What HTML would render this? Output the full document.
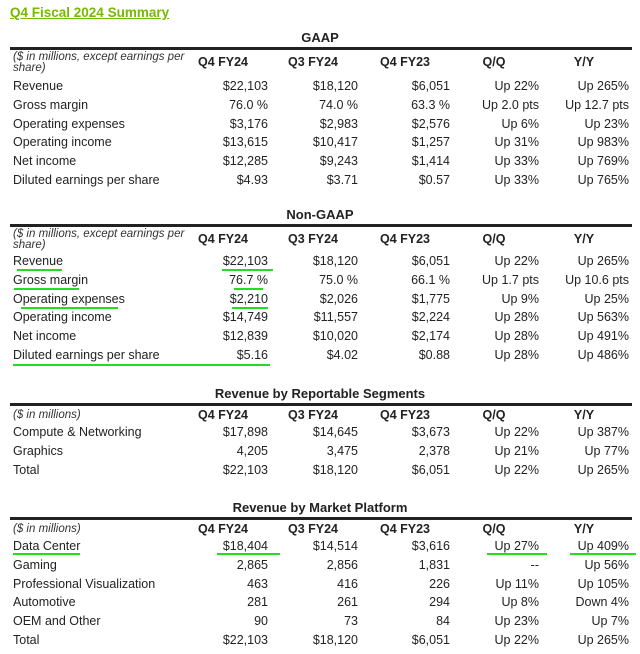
<!DOCTYPE html>
<html><head><meta charset="utf-8"><style>
body{margin:0;width:640px;height:654px;background:#fff;position:relative;overflow:hidden;font-family:"Liberation Sans",sans-serif;color:#222}
.t{position:absolute;white-space:nowrap;font-size:12.5px;line-height:14px}
.r{text-align:right}
.b{font-weight:bold}
.c{text-align:center}
.hl{position:absolute;height:3px;background:#222;left:10px;width:622px}
.g{position:absolute;height:2px;background:#22dd22}
</style></head><body>
<div class="t b" style="left:10px;top:5px;font-size:13.5px;line-height:16px;color:#76b900;text-decoration:underline">Q4 Fiscal 2024 Summary</div>
<div id="root"></div>
<script>
const colRight=[268,358,450,539,629];
const colHeaders=["Q4 FY24","Q3 FY24","Q4 FY23","Q/Q","Y/Y"];
const gaapRows=[["Revenue","$22,103","$18,120","$6,051","Up 22%","Up 265%"],["Gross margin","76.0 %","74.0 %","63.3 %","Up 2.0 pts","Up 12.7 pts"],["Operating expenses","$3,176","$2,983","$2,576","Up 6%","Up 23%"],["Operating income","$13,615","$10,417","$1,257","Up 31%","Up 983%"],["Net income","$12,285","$9,243","$1,414","Up 33%","Up 769%"],["Diluted earnings per share","$4.93","$3.71","$0.57","Up 33%","Up 765%"]];
const nongaapRows=[["Revenue","$22,103","$18,120","$6,051","Up 22%","Up 265%"],["Gross margin","76.7 %","75.0 %","66.1 %","Up 1.7 pts","Up 10.6 pts"],["Operating expenses","$2,210","$2,026","$1,775","Up 9%","Up 25%"],["Operating income","$14,749","$11,557","$2,224","Up 28%","Up 563%"],["Net income","$12,839","$10,020","$2,174","Up 28%","Up 491%"],["Diluted earnings per share","$5.16","$4.02","$0.88","Up 28%","Up 486%"]];
const segRows=[["Compute & Networking","$17,898","$14,645","$3,673","Up 22%","Up 387%"],["Graphics","4,205","3,475","2,378","Up 21%","Up 77%"],["Total","$22,103","$18,120","$6,051","Up 22%","Up 265%"]];
const mktRows=[["Data Center","$18,404","$14,514","$3,616","Up 27%","Up 409%"],["Gaming","2,865","2,856","1,831","--","Up 56%"],["Professional Visualization","463","416","226","Up 11%","Up 105%"],["Automotive","281","261","294","Up 8%","Down 4%"],["OEM and Other","90","73","84","Up 23%","Up 7%"],["Total","$22,103","$18,120","$6,051","Up 22%","Up 265%"]];
const sections=[
 {name:"GAAP",title:"GAAP",top:31,note:"($ in millions, except earnings per<br>share)",rows:gaapRows,firstRow:79},
 {name:"non-gaap",title:"Non-GAAP",top:208,note:"($ in millions, except earnings per<br>share)",rows:nongaapRows,firstRow:254},
 {name:"segments",title:"Revenue by Reportable Segments",top:387,note:"($ in millions)",rows:segRows,firstRow:425},
 {name:"market-platform",title:"Revenue by Market Platform",top:501,note:"($ in millions)",rows:mktRows,firstRow:539}];
const rowH=18.8;
const root=document.getElementById('root');
function add(cls,txt,style,name){const d=document.createElement('div');d.className=cls;d.innerHTML=txt;d.style.cssText=style;


root.appendChild(d);return d;}
sections.forEach(s=>{
 add('t b c',s.title,`left:120px;width:400px;top:${s.top}px;font-size:13px`,s.name.toLowerCase()+'-title');
 add('hl','',`top:${s.top+16}px`,s.name.toLowerCase()+'-rule');
 const two=s.note.includes('<br>');
 add('t',s.note,`left:13px;top:${s.top+(two?21:23)}px;font-style:italic;font-size:11.5px;line-height:11px;color:#333`,'units-note');
 colHeaders.forEach((h,i)=>add('t b c',h,`left:${colRight[i]-90}px;width:90px;top:${s.top+(two?24:21)}px`,'col-header'));
 s.rows.forEach((r,j)=>{const y=s.firstRow+j*rowH;
  add('t',r[0],`left:13px;top:${y}px`,'row-label');
  for(let k=1;k<6;k++) add('t r',r[k],`left:${colRight[k-1]-100}px;width:100px;top:${y}px`,'cell');
 });
});
const marks=[[17,62,269],[222,273,269],[14,79,288],[234,263,288],[21,118,307],[232,268,307],[13,270,364],[13,80,553],[217,280,553],[487,547,553],[570,636,553]];
marks.forEach(m=>add('g','',`left:${m[0]}px;width:${m[1]-m[0]}px;top:${m[2]}px`,'highlight-underline'));
</script>
</body></html>
